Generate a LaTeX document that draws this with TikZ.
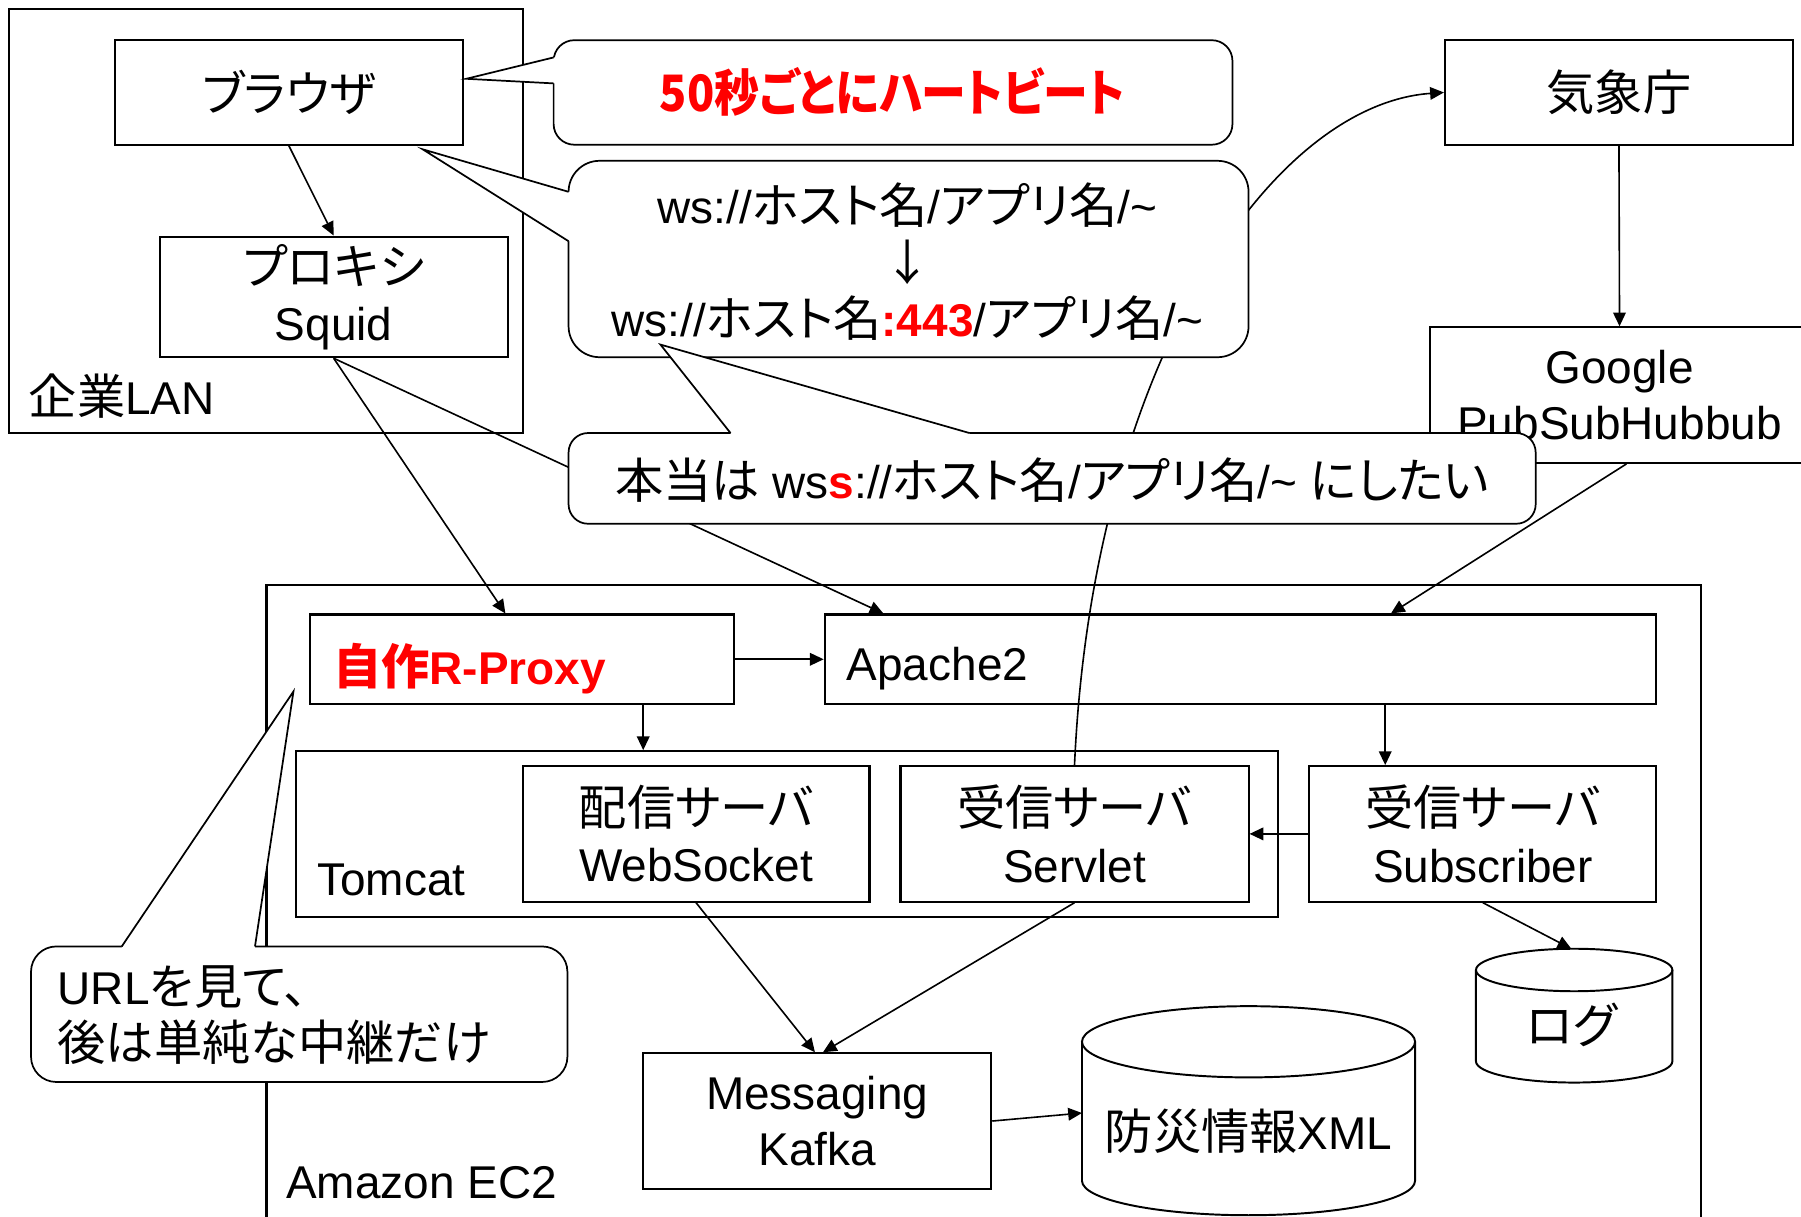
\documentclass[tikz,border=0pt]{standalone}
\usepackage{fontspec}
\setmainfont{Liberation Sans}
\newfontfamily\jp[RawFeature=+palt,Scale=1.05]{Noto Sans CJK JP}
\usetikzlibrary{arrows.meta}
\newcommand\fs{\fontsize{40}{49}\selectfont}
\begin{document}
\begin{tikzpicture}[x=1pt,y=-1pt,
  box/.style={draw,line width=1.8pt,inner sep=0pt,align=center,font=\fs},
  lbl/.style={inner sep=0pt,align=center,font=\fs},
  conn/.style={line width=1.4pt,-{Triangle[length=12pt,width=11pt]}},
  bubble/.style={draw,line width=1.5pt,fill=white,rounded corners=#1},
  tailfill/.style={fill=white},
  tailline/.style={line width=1.5pt},
  dbline/.style={line width=1.7pt},
]
\clip (0,0) rectangle (1568,1059);
% containers
\node[box,minimum width=447pt,minimum height=369pt] (lan) at (231.5,192.5) {};
\node[lbl,anchor=west] (lanl) at (25,345) {{\jp 企業}LAN};
\node[box,minimum width=1249pt,minimum height=561pt] (ec2) at (856.5,789.5) {};
\node[lbl,anchor=west] (ec2l) at (249,1030) {Amazon EC2};
\node[box,minimum width=855pt,minimum height=144pt] (tomcat) at (685.5,726) {};
\node[lbl,anchor=west] (tomcatl) at (276,766) {Tomcat};
% boxes
\node[box,minimum width=303pt,minimum height=91pt] (browser) at (251.5,80.5) {\jp ブラウザ};
\node[box,minimum width=303pt,minimum height=105pt] (proxy) at (290.5,258.5) {{\jp プロキシ}\\Squid};
\node[box,minimum width=303pt,minimum height=91pt] (kisho) at (1409.5,80.5) {\jp 気象庁};
\node[box,minimum width=330pt,minimum height=118pt] (google) at (1410,344) {Google\\PubSubHubbub};
\node[box,minimum width=369pt,minimum height=78pt] (rproxy) at (454.5,574) {};
\node[lbl,anchor=west,text=red] (rproxyl) at (290,582) {\bfseries{\jp 自作}R-Proxy};
\node[box,minimum width=724pt,minimum height=78pt] (apache) at (1080,574) {};
\node[lbl,anchor=west] (apachel) at (737,582) {Apache2};
\node[box,minimum width=302pt,minimum height=118pt] (websocket) at (606,726) {{\jp 配信サーバ}\\WebSocket};
\node[box,minimum width=303pt,minimum height=118pt] (servlet) at (935.5,726) {{\jp 受信サーバ}\\Servlet};
\node[box,minimum width=302pt,minimum height=118pt] (subscriber) at (1291,726) {{\jp 受信サーバ}\\Subscriber};
\node[box,minimum width=303pt,minimum height=118pt] (kafka) at (711.5,976) {Messaging\\Kafka};
% databases
\draw[dbline] (1285,844.5) -- (1285,924) arc[start angle=180,end angle=360,x radius=85.5pt,y radius=18.5pt] -- (1456,844.5);
\draw[dbline] (1370.5,844.5) ellipse [x radius=85.5pt,y radius=18.5pt];
\coordinate (logtop) at (1368,826);
\node[lbl] (logl) at (1368,892) {\jp ログ};
\draw[dbline] (942,907) -- (942,1028) arc[start angle=180,end angle=360,x radius=145pt,y radius=30pt] -- (1232,907);
\draw[dbline] (1087,907) ellipse [x radius=145pt,y radius=31pt];
\coordinate (xmlw) at (942,969);
\node[lbl] (xmll) at (1087,985) {{\jp 防災情報}XML};
% connectors
\draw[conn] (browser.south) -- (proxy.north);
\draw[conn] (proxy.south) -- ([xshift=-14.5pt]rproxy.north);
\draw[conn] (proxy.south) -- ([xshift=52pt]apache.north west);
\draw[conn] (rproxy.east) -- (apache.west);
\draw[conn] ([xshift=105.5pt]rproxy.south) -- ([xshift=105.5pt]rproxy.south |- tomcat.north);
\draw[conn] (kisho.south) -- (google.north);
\draw[conn] ([xshift=6pt]google.south) -- ([xshift=131pt]apache.north);
\draw[conn] ([xshift=126pt]apache.south) -- ([xshift=126pt]apache.south |- subscriber.north);
\draw[conn] (subscriber.west) -- (servlet.east);
\draw[conn] (subscriber.south) -- (logtop);
\draw[conn] (websocket.south) -- ([xshift=-2pt]kafka.north);
\draw[conn] (servlet.south) -- ([xshift=5pt]kafka.north);
\draw[conn] (kafka.east) -- (xmlw);
\draw[conn] (servlet.north) .. controls (951,317) and (1107,91) .. (kisho.west);
% callout 1
\draw[bubble=18pt] (482,35) rectangle (1073,126);
\fill[tailfill] (482,50) -- (406,68.6) -- (482,72.6) -- (486,72.6) -- (486,50) -- cycle;
\draw[tailline] (482,50) -- (406,68.6) -- (482,72.6);
\node[lbl,text=red] (c1t) at (777,80) {\scalebox{0.93}[1.04]{\jp\bfseries 50秒ごとにハートビート}};
% callout 2
\draw[bubble=27pt] (495,140) rectangle (1087,311);
\fill[tailfill] (495,167) -- (368,130) -- (495,210) -- (499,210) -- (499,167) -- cycle;
\draw[tailline] (495,167) -- (368,130) -- (495,210);
\node[lbl] (c2t) at (790,228) {ws://{\jp ホスト名}/{\jp アプリ名}/\textasciitilde\\{\jp ↓}\\ws://{\jp ホスト名}\textcolor{red}{\bfseries :443}/{\jp アプリ名}/\textasciitilde};
% callout 3
\draw[bubble=17pt] (495,377) rectangle (1337,456);
\fill[tailfill] (636,377) -- (575,300) -- (844,377) -- (844,381) -- (636,381) -- cycle;
\draw[tailline] (636,377) -- (575,300) -- (844,377);
\node[lbl] (c3t) at (916,418) {{\jp 本当は} ws\textcolor{red}{\bfseries s}://{\jp ホスト名}/{\jp アプリ名}/\textasciitilde{} {\jp にしたい}};
% callout 4
\draw[bubble=22pt] (27,824) rectangle (494,942);
\fill[tailfill] (106,824) -- (255.5,602) -- (222,824) -- (222,828) -- (106,828) -- cycle;
\draw[tailline] (106,824) -- (255.5,602) -- (222,824);
\node[lbl,align=left,anchor=west] (c4t) at (50,884) {URL{\jp を見て、}\\{\jp 後は単純な中継だけ}};
\end{tikzpicture}
\end{document}
